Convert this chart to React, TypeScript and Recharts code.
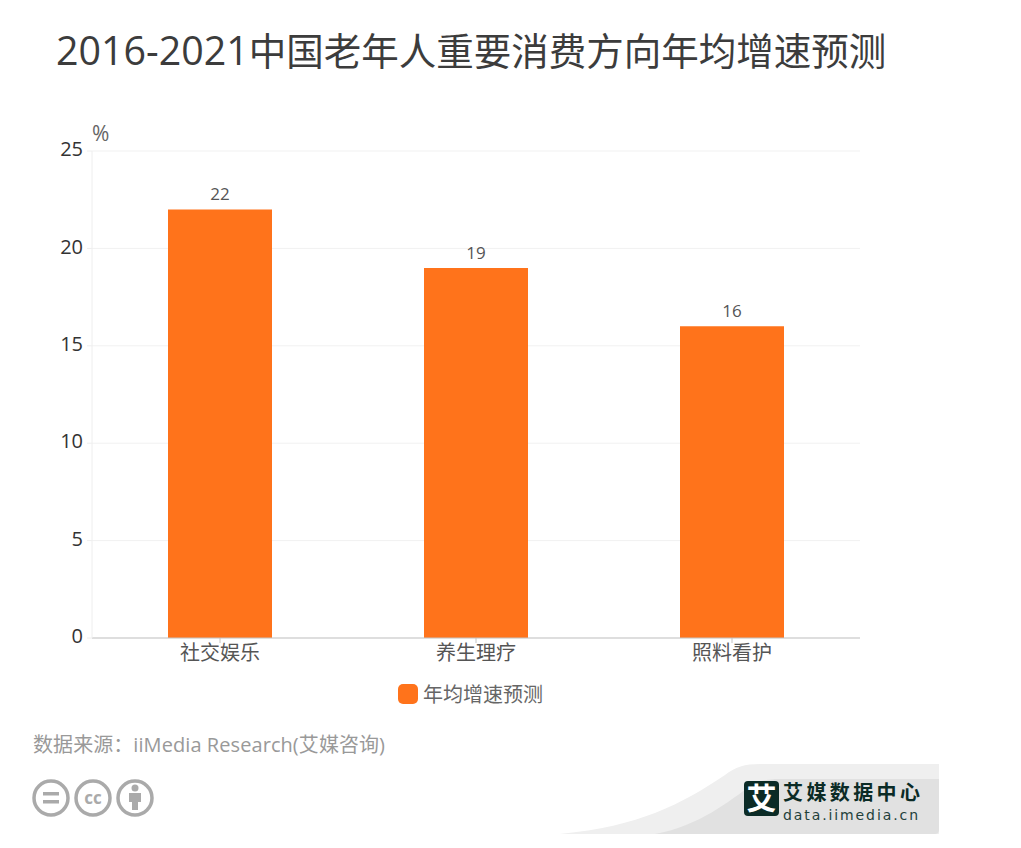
import { BarChart, Bar, XAxis, YAxis, CartesianGrid, LabelList, Legend } from 'recharts'

const categories = ['社交娱乐', '养生理疗', '照料看护']
const growth = [22, 19, 16]
const yTicks = [0, 5, 10, 15, 20, 25]
const seriesName = '年均增速预测'

const data = categories.map((name, i) => ({ name, growth: growth[i] }))

const FONT = '"Open Sans", "Noto Sans CJK SC", sans-serif'

function LegendBox() {
  return (
    <div style={{ display: 'flex', alignItems: 'center', fontFamily: FONT, fontSize: 20, color: '#666' }}>
      <span style={{ width: 20, height: 20, borderRadius: 5, background: '#ff731b', marginRight: 5 }} />
      {seriesName}
    </div>
  )
}

function Footer() {
  return (
    <svg width={1021} height={848} style={{ position: 'absolute', left: 0, top: 0, pointerEvents: 'none' }}>
      <text x={33} y={752} fontFamily={FONT} fontSize={20} fill="#999" textLength={352}>数据来源：iiMedia Research(艾媒咨询)</text>

      <g fill="none" stroke="#aaa" strokeWidth={3.5}>
        <circle cx={51} cy={798} r={17} />
        <circle cx={93} cy={798} r={17} />
        <circle cx={135} cy={798} r={17} />
      </g>
      <rect x={43} y={792} width={16} height={3.5} fill="#aaa" />
      <rect x={43} y={800} width={16} height={3.5} fill="#aaa" />
      <text x={93} y={804} textAnchor="middle" fontFamily={FONT} fontSize={17} fontWeight={700} fill="#aaa">cc</text>
      <circle cx={135} cy={788} r={3.5} fill="#aaa" />
      <path d="M129 793 H141 V802 H138 V810 H132 V802 H129 Z" fill="#aaa" />

      <path d="M560 834 C640 826 680 805 725 775 C735 767 745 764 760 764 H939 V834 Z" fill="#efefef" />
      <path d="M655 834 C700 826 730 800 752 785 C758 781 765 780 775 779 H939 V830 Q939 834 935 834 Z" fill="#e1e1e1" />
      <rect x={744} y={781} width={35} height={35} rx={4} fill="#0b2b26" />
      <text x={761.5} y={809} textAnchor="middle" fontFamily={FONT} fontSize={30} fontWeight={700} fill="#fff">艾</text>
      <text x={783} y={800} fontFamily={FONT} fontSize={20} fontWeight={700} fill="#0b2b26" textLength={137}>艾媒数据中心</text>
      <text x={783} y={820} fontFamily="'DejaVu Sans', sans-serif" fontSize={14} fill="#23403b" textLength={135}>data.iimedia.cn</text>
    </svg>
  )
}

export default function App() {
  return (
    <div style={{ position: 'absolute', left: 0, top: 0, width: 1021, height: 848, background: '#fff', overflow: 'hidden' }}>
      <div style={{ position: 'absolute', left: 56, top: 24, fontFamily: FONT, fontSize: 37.5, lineHeight: '52px', color: '#3c3c3c', whiteSpace: 'nowrap' }}>
        <span style={{ fontSize: 39.4 }}>2016-2021</span>中国老年人重要消费方向年均增速预测
      </div>
      <BarChart
        width={1021}
        height={848}
        data={data}
        barSize={104}
        margin={{ top: 151, right: 161, left: 32, bottom: 151 }}
        style={{ fontFamily: FONT }}
      >
        <CartesianGrid vertical={false} stroke="#f1f1f1" />
        <XAxis
          dataKey="name"
          height={30}
          stroke="#c4c4c4"
          tickSize={5}
          tickMargin={3}
          tick={{ fontSize: 20, fill: '#555' }}
        />
        <YAxis
          width={60}
          domain={[0, 25]}
          ticks={yTicks}
          interval={0}
          axisLine={{ stroke: '#eeeeee' }}
          tickLine={{ stroke: '#eeeeee' }}
          tickSize={5}
          tickMargin={4}
          tick={{ fontSize: 20, fill: '#333', dy: -2 }}
        />
        <Legend
          content={<LegendBox />}
          wrapperStyle={{ position: 'absolute', left: 398, top: 679, width: 'auto' }}
        />
        <Bar dataKey="growth" name={seriesName} fill="#ff731b" isAnimationActive={false}>
          <LabelList dataKey="growth" position="top" offset={9} style={{ fontSize: 17, fill: '#555' }} />
        </Bar>
      </BarChart>
      <div style={{ position: 'absolute', left: 92, top: 120, fontFamily: FONT, fontSize: 21, lineHeight: '26px', color: '#666' }}>%</div>
      <Footer />
    </div>
  )
}
